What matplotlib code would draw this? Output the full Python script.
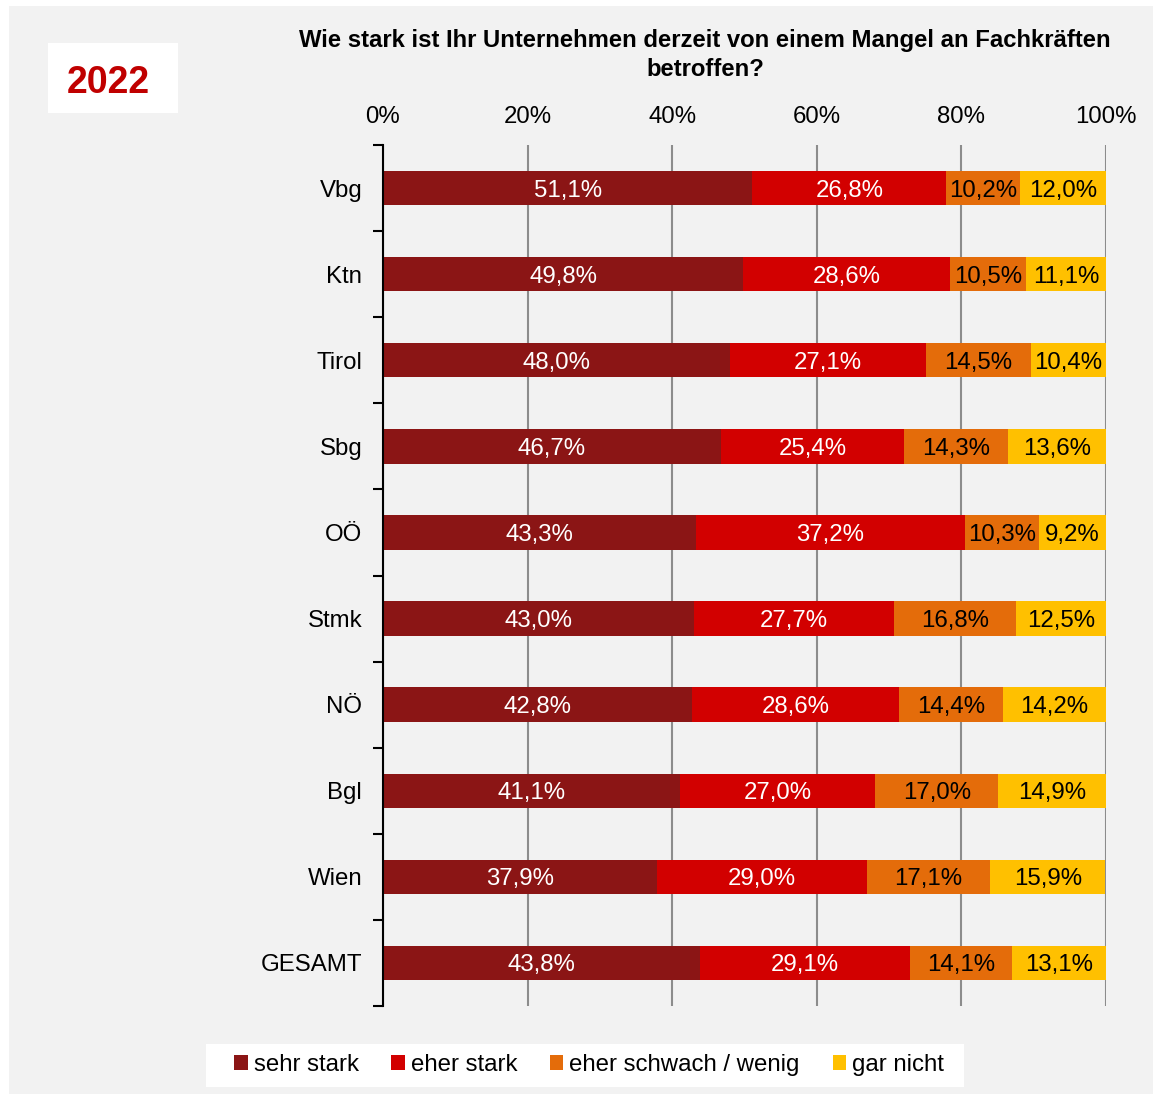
import numpy as np
import matplotlib.pyplot as plt
from matplotlib.patches import Patch, Rectangle

plt.rcParams['font.family'] = ['Liberation Sans', 'DejaVu Sans']

# Daten
regionen = ['Vbg', 'Ktn', 'Tirol', 'Sbg', 'OÖ', 'Stmk', 'NÖ', 'Bgl', 'Wien', 'GESAMT']
sehr_stark = [51.1, 49.8, 48.0, 46.7, 43.3, 43.0, 42.8, 41.1, 37.9, 43.8]
eher_stark = [26.8, 28.6, 27.1, 25.4, 37.2, 27.7, 28.6, 27.0, 29.0, 29.1]
eher_schwach = [10.2, 10.5, 14.5, 14.3, 10.3, 16.8, 14.4, 17.0, 17.1, 14.1]
gar_nicht = [12.0, 11.1, 10.4, 13.6, 9.2, 12.5, 14.2, 14.9, 15.9, 13.1]

serien = ['sehr stark', 'eher stark', 'eher schwach / wenig', 'gar nicht']
farben = ['#8B1515', '#D20000', '#E46C0A', '#FFC000']
textfarben = ['white', 'white', 'black', 'black']
xticks = [0, 20, 40, 60, 80, 100]

fs = 17.3
bg = '#f2f2f2'
fig = plt.figure(figsize=(11.53, 10.94), dpi=100)
fig.patch.set_facecolor('white')
# grauer Hintergrund
fig.patches.append(Rectangle((9/1153, 0), 1 - 9/1153, 1 - 6/1094, transform=fig.transFigure,
                             facecolor=bg, edgecolor='none', zorder=-10))
# Kasten 2022
fig.patches.append(Rectangle((48/1153, 1 - 113/1094), 130/1153, 70/1094, transform=fig.transFigure,
                             facecolor='white', edgecolor='none', zorder=-5))
fig.text(108/1153, 1 - 79/1094, '2022', color='#C00000', fontsize=27, fontweight='bold',
         ha='center', va='center_baseline')
# Kasten Legende
fig.patches.append(Rectangle((206/1153, 1 - 1087/1094), 758/1153, 43/1094, transform=fig.transFigure,
                             facecolor='white', edgecolor='none', zorder=-5))

ax = fig.add_axes([383/1153, 1 - 1006/1094, 723/1153, 861/1094])
ax.set_facecolor(bg)

y = np.arange(len(regionen))
werte = [sehr_stark, eher_stark, eher_schwach, gar_nicht]
links = np.zeros(len(regionen))
for s, w, c, tc in zip(serien, werte, farben, textfarben):
    w = np.array(w)
    ax.barh(y, w, left=links, height=0.4, color=c, label=s, zorder=3)
    for yi, l, v in zip(y, links, w):
        ax.text(l + v / 2, yi, f'{v:.1f}%'.replace('.', ','), ha='center', va='center_baseline',
                color=tc, fontsize=fs, zorder=4)
    links += w

ax.set_xlim(0, 100)
ax.set_ylim(len(regionen) - 0.5, -0.5)
ax.set_xticks(xticks)
ax.set_xticklabels([f'{t}%' for t in xticks], fontsize=fs)
ax.xaxis.tick_top()
ax.tick_params(axis='x', length=0, pad=12)
ax.grid(axis='x', color='#8c8c8c', linewidth=1.5, zorder=1)

ax.set_yticks(y)
ax.set_yticklabels(regionen, fontsize=fs)
ax.tick_params(axis='y', which='major', length=0, pad=15)
ax.set_yticks(np.arange(-0.5, len(regionen)), minor=True)
ax.tick_params(axis='y', which='minor', length=7, width=1.5, color='black')
for lbl in ax.get_yticklabels():
    lbl.set_verticalalignment('center_baseline')

for sp in ['top', 'right', 'bottom']:
    ax.spines[sp].set_visible(False)
ax.spines['left'].set_linewidth(1.5)
ax.spines['left'].set_zorder(5)

fig.text(705/1153, 1 - 55/1094, 'Wie stark ist Ihr Unternehmen derzeit von einem Mangel an Fachkräften\nbetroffen?',
         ha='center', va='center', fontsize=17.2, fontweight='bold', linespacing=1.3)

handles = [Patch(facecolor=c, label=s) for s, c in zip(serien, farben)]
leg = fig.legend(handles=handles, loc='center', bbox_to_anchor=(589/1153, 1 - 1065/1094),
                 ncol=4, fontsize=fs, frameon=False, handlelength=0.55,
                 handleheight=0.55, handletextpad=0.25, columnspacing=1.37,
                 borderpad=0, borderaxespad=0)

fig.savefig('out.png', dpi=100, facecolor=fig.get_facecolor())
